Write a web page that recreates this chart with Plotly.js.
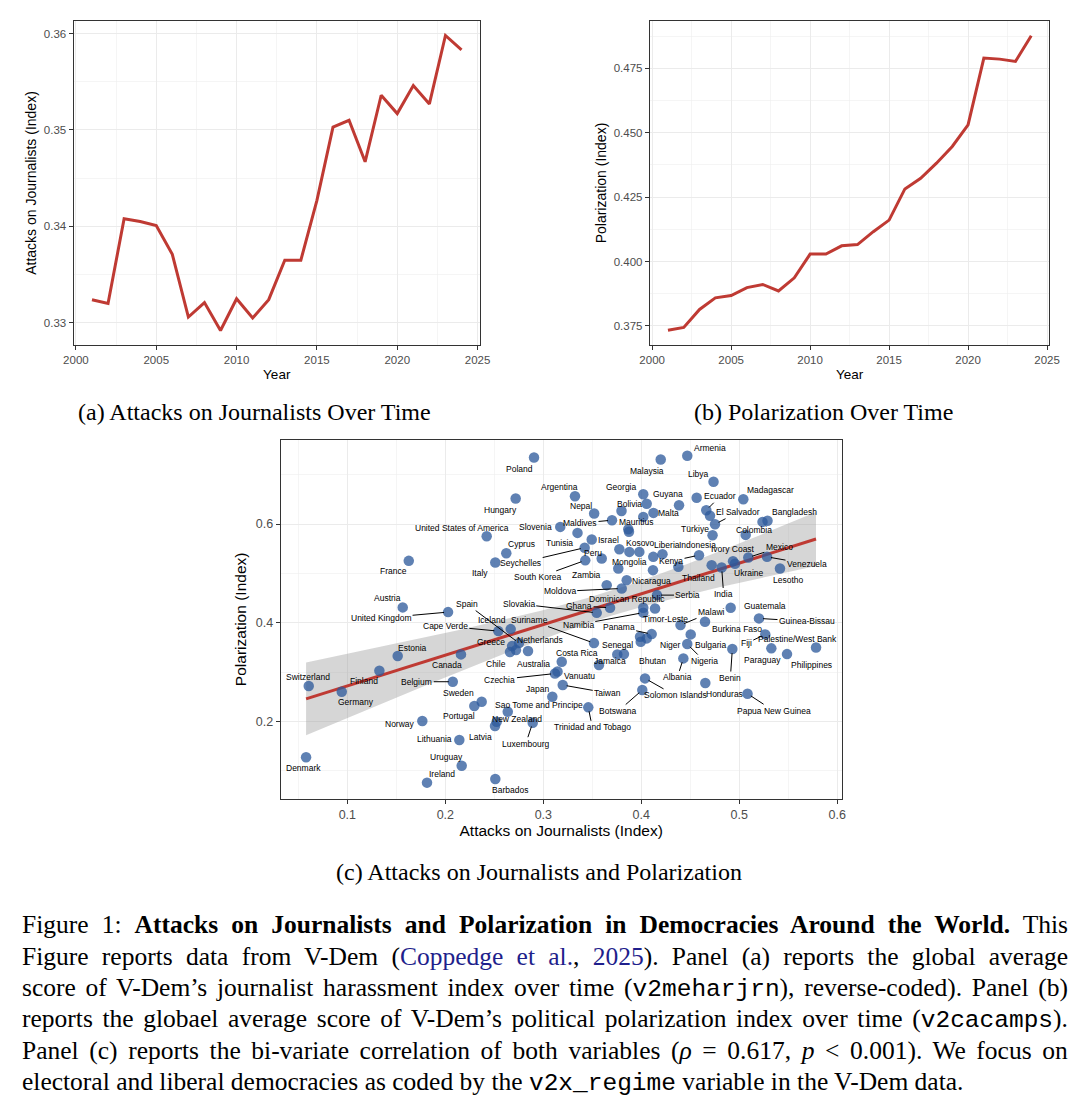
<!DOCTYPE html>
<html><head><meta charset="utf-8">
<script src="https://cdn.plot.ly/plotly-3.0.1.min.js"></script>
<style>html,body{margin:0;padding:0;background:#fff;} #fig{width:1092px;height:1120px;}</style>
</head><body><div id="fig"></div>
<script>
// ---------------- DATA ----------------
const years = [2001,2002,2003,2004,2005,2006,2007,2008,2009,2010,2011,2012,2013,2014,2015,2016,2017,2018,2019,2020,2021,2022,2023,2024];
const attacksOverTime = [0.3324,0.3320,0.3408,0.3405,0.3401,0.3371,0.3306,0.3321,0.3292,0.3325,0.3305,0.3324,0.3365,0.3365,0.3427,0.3503,0.3510,0.3467,0.3536,0.3517,0.3546,0.3527,0.3598,0.3583];
const polarizationOverTime = [0.3733,0.3744,0.3814,0.3859,0.3868,0.3899,0.3911,0.3886,0.3937,0.4029,0.4029,0.4061,0.4066,0.4116,0.4161,0.4282,0.4323,0.4382,0.4447,0.4531,0.4790,0.4786,0.4777,0.4877];

const countries = ["Poland","Hungary","United States of America","Cyprus","Italy","France","Austria","United Kingdom","Spain","Cape Verde",
"Iceland","Greece","Netherlands","Chile","Australia","Canada","Estonia","Switzerland","Finland","Germany",
"Belgium","Sweden","Portugal","Norway","Lithuania","Latvia","New Zealand","Sao Tome and Principe","Luxembourg","Uruguay",
"Ireland","Denmark","Barbados","Japan","Taiwan","Czechia","Vanuatu","Costa Rica","Jamaica","Bhutan",
"","Senegal","Panama","","Niger","Suriname","Namibia","","Timor-Leste","Slovakia",
"Ghana","Dominican Republic","Moldova","Nicaragua","Serbia","Malawi","Burkina Faso","Guatemala","Guinea-Bissau","Bulgaria",
"Nigeria","Albania","Benin","Fiji","Paraguay","Palestine/West Bank","Philippines","Solomon Islands","Botswana","Honduras",
"Papua New Guinea","Trinidad and Tobago","India","Thailand","Ivory Coast","Ukraine","Mexico","Venezuela","Lesotho","Kenya",
"Indonesia","Liberia","","","Kosovo","Mongolia","","Peru","Zambia","South Korea",
"Seychelles","Israel","Tunisia","Slovenia","Maldives","Nepal","Argentina","Bolivia","Mauritius","",
"Georgia","","","Malta","Guyana","","Malaysia","Armenia","Libya","Ecuador",
"","El Salvador","Türkiye","Madagascar","Bangladesh","","Colombia"];
const attacksIndex = [0.2905,0.2718,0.2422,0.2622,0.2510,0.1627,0.1565,0.2028,0.2752,0.2541,
0.2667,0.2681,0.2721,0.2660,0.2844,0.2160,0.1514,0.0606,0.1327,0.0943,
0.2076,0.2371,0.2296,0.1765,0.2143,0.2507,0.2524,0.2637,0.2892,0.2167,
0.1813,0.0579,0.2510,0.3092,0.3198,0.3119,0.3145,0.3188,0.3568,0.3823,
0.3755,0.3994,0.4106,0.3987,0.4055,0.3517,0.4020,0.4020,0.4140,0.3545,
0.3681,0.3647,0.3800,0.3851,0.4160,0.4400,0.4650,0.4912,0.5201,0.4504,
0.4469,0.4429,0.4929,0.5265,0.5327,0.5487,0.5783,0.4038,0.4010,0.4653,
0.5084,0.3459,0.4820,0.4718,0.4936,0.4956,0.5092,0.5283,0.5415,0.4589,
0.4378,0.4216,0.4122,0.4119,0.3980,0.3878,0.3776,0.3596,0.3765,0.3428,
0.3422,0.3494,0.3349,0.3173,0.3701,0.3519,0.3323,0.3798,0.3867,0.3874,
0.4020,0.4055,0.4020,0.4124,0.4385,0.4565,0.4198,0.4469,0.4737,0.4663,
0.4701,0.4752,0.4727,0.5041,0.5288,0.5237,0.5065];
const polarizationIndex = [0.7348,0.6518,0.5755,0.5411,0.5223,0.5255,0.4312,0.4217,0.3589,0.3832,
0.3872,0.3528,0.3447,0.3407,0.3427,0.3360,0.3326,0.2719,0.3028,0.2603,
0.2806,0.2401,0.2314,0.2010,0.1626,0.1909,0.1996,0.2198,0.1976,0.1105,
0.0761,0.1275,0.0836,0.2502,0.2739,0.2972,0.3012,0.3211,0.3144,0.3366,
0.3360,0.3615,0.3771,0.3717,0.3684,0.3589,0.4206,0.4304,0.4291,0.4202,
0.4304,0.4763,0.4696,0.4864,0.4561,0.3953,0.4020,0.4304,0.4089,0.3765,
0.3569,0.3279,0.3468,0.3765,0.3482,0.3366,0.3498,0.2874,0.2638,0.2779,
0.2563,0.2287,0.5121,0.5168,0.5249,0.5198,0.5324,0.5336,0.5101,0.5370,
0.5134,0.5391,0.5336,0.5067,0.5437,0.5437,0.5492,0.5304,0.5101,0.5265,
0.5522,0.5688,0.5822,0.5943,0.6079,0.6215,0.6565,0.6267,0.5897,0.5846,
0.6605,0.6413,0.6146,0.6227,0.6383,0.6534,0.7308,0.7385,0.6858,0.6281,
0.6170,0.5998,0.5775,0.6504,0.6069,0.6045,0.5781];

// label placement (pixel offset of label centre from its point, 1 = leader line)
const labelPlacement = {
"Poland":[-15,11,0],"Hungary":[-15,11,0],"United States of America":[-25,-8,0],"Cyprus":[15,-9,0],"Italy":[-15,11,0],
"France":[-15,10,0],"Austria":[-15,-9,0],"United Kingdom":[-67,6,1],"Spain":[-52,-39,1],"Cape Verde":[-53,-5,1],
"Iceland":[-19,-9,0],"Greece":[-21,-4,0],"Netherlands":[24,-10,0],"Chile":[-14,12,0],"Australia":[5,13,0],
"Canada":[-14,11,0],"Estonia":[15,-8,0],"Switzerland":[-1,-9,0],"Finland":[-15,10,0],"Germany":[14,10,0],
"Belgium":[-36,0,1],"Sweden":[-23,-9,0],"Portugal":[-15,10,0],"Norway":[-22,3,0],"Lithuania":[-25,-1,0],
"Latvia":[-15,11,0],"New Zealand":[20,-3,0],"Sao Tome and Principe":[31,-7,0],"Luxembourg":[-7,21,1],"Uruguay":[-15,-9,0],
"Ireland":[15,-9,0],"Denmark":[-3,11,0],"Barbados":[15,11,0],"Japan":[-15,-8,0],"Taiwan":[45,8,1],
"Czechia":[-55,6,1],"Vanuatu":[22,4,0],"Costa Rica":[15,-9,0],"Jamaica":[11,-4,0],"Bhutan":[29,7,0],
"Senegal":[-23,3,0],"Panama":[-33,-7,1],"Niger":[23,7,0],"Suriname":[-64,-23,1],"Namibia":[-65,12,1],
"Timor-Leste":[10,11,0],"Slovakia":[-78,-9,1],"Ghana":[-31,-2,1],"Dominican Republic":[20,14,0],"Moldova":[-62,3,1],
"Nicaragua":[25,1,0],"Serbia":[31,0,1],"Malawi":[31,-13,1],"Burkina Faso":[32,7,0],"Guatemala":[34,-2,0],
"Guinea-Bissau":[48,3,1],"Bulgaria":[20,11,0],"Nigeria":[17,17,1],"Albania":[-6,19,1],"Benin":[-2,29,1],
"Fiji":[-19,9,1],"Paraguay":[-9,12,0],"Palestine/West Bank":[10,-15,0],"Philippines":[-5,17,0],"Solomon Islands":[30,17,1],
"Botswana":[-24,21,1],"Honduras":[19,11,0],"Papua New Guinea":[26,17,1],"Trinidad and Tobago":[4,20,1],"India":[2,27,1],
"Thailand":[-13,13,0],"Ivory Coast":[0,-12,0],"Ukraine":[14,9,0],"Mexico":[31,-10,1],"Venezuela":[40,7,1],
"Lesotho":[9,12,0],"Kenya":[-28,6,1],"Indonesia":[19,-22,0],"Liberia":[5,-9,0],"Kosovo":[1,-9,0],
"Mongolia":[0,10,0],"Peru":[-9,-5,0],"Zambia":[-32,7,0],"South Korea":[-47,17,1],"Seychelles":[-64,15,1],
"Israel":[17,1,0],"Tunisia":[-18,10,0],"Slovenia":[-25,0,0],"Maldives":[-32,3,1],"Nepal":[-13,-7,0],
"Argentina":[-15,-9,0],"Bolivia":[8,-7,0],"Mauritius":[8,-7,0],"Georgia":[-22,-7,0],"Malta":[15,0,0],
"Guyana":[-11,-11,0],"Malaysia":[-14,11,0],"Armenia":[23,-8,0],"Libya":[-15,-8,0],"Ecuador":[14,-14,1],
"Madagascar":[27,-9,0],"El Salvador":[23,-12,1],"Bangladesh":[27,-9,0],"Türkiye":[-18,-6,0],"Colombia":[8,-5,0]
};

// ---------------- LAYOUT HELPERS ----------------
const W = 1092, H = 1120;
const hx = (a,b) => [a/W, b/W];
const vy = (top,bottom) => [1-bottom/H, 1-top/H];
const SANS = "Liberation Sans, Arial, sans-serif";
const SERIF = "Liberation Serif, Times New Roman, serif";
const RED = "#bf3a33";
const GRID = "#ebebeb", MINOR = "#eeeeee", FRAME = "#333333";
const CAPFS = 25.5;
const MONO = "<span style='font-family:Liberation Mono;font-size:24.5px'>";

function baseAxis(extra){
  return Object.assign({
    showline:true, mirror:true, linecolor:FRAME, linewidth:1,
    ticks:"outside", ticklen:4, tickwidth:1, tickcolor:FRAME,
    showgrid:true, gridcolor:GRID, gridwidth:1, zeroline:false,
    tickfont:{family:SANS, size:11.5, color:"#4d4d4d"}
  }, extra);
}
const minorGrid = d => ({dtick:d, showgrid:true, gridcolor:MINOR, gridwidth:0.6, ticks:""});

// ---------------- LINEAR FIT (geom_smooth, method = lm) ----------------
const n = attacksIndex.length;
const mx = attacksIndex.reduce((s,v)=>s+v,0)/n;
const my = polarizationIndex.reduce((s,v)=>s+v,0)/n;
let sxx=0, sxy=0;
for(let i=0;i<n;i++){ const dx=attacksIndex[i]-mx, dy=polarizationIndex[i]-my; sxx+=dx*dx; sxy+=dx*dy; }
const slope = sxy/sxx, intercept = my - slope*mx;
let sse=0; for(let i=0;i<n;i++){ const r=polarizationIndex[i]-(intercept+slope*attacksIndex[i]); sse+=r*r; }
const s2 = sse/(n-2), tq = 1.981;
const xmin = Math.min(...attacksIndex), xmax = Math.max(...attacksIndex);
const fx=[], fy=[], up=[], lo=[];
for(let k=0;k<=80;k++){
  const x = xmin + (xmax-xmin)*k/80;
  const yh = intercept + slope*x;
  const se = Math.sqrt(s2*(1/n + (x-mx)*(x-mx)/sxx));
  fx.push(x); fy.push(yh); up.push(yh+tq*se); lo.push(yh-tq*se);
}

// ---------------- TRACES ----------------
const traces = [
  {x:years, y:attacksOverTime, type:"scatter", mode:"lines", xaxis:"x", yaxis:"y",
   line:{color:RED, width:3}, hoverinfo:"x+y"},
  {x:years, y:polarizationOverTime, type:"scatter", mode:"lines", xaxis:"x2", yaxis:"y2",
   line:{color:RED, width:3}, hoverinfo:"x+y"},
  {x:fx.concat(fx.slice().reverse()), y:up.concat(lo.slice().reverse()), type:"scatter", mode:"lines",
   fill:"toself", fillcolor:"rgba(153,153,153,0.4)", line:{width:0}, xaxis:"x3", yaxis:"y3", hoverinfo:"skip"},
  {x:fx, y:fy, type:"scatter", mode:"lines", line:{color:RED, width:3}, xaxis:"x3", yaxis:"y3", hoverinfo:"skip"},
  {x:attacksIndex, y:polarizationIndex, text:countries, type:"scatter", mode:"markers", xaxis:"x3", yaxis:"y3",
   marker:{size:10.5, color:"rgba(45,90,155,0.76)", line:{width:0}}, hoverinfo:"text+x+y"}
];

// ---------------- ANNOTATIONS ----------------
const annotations = [];
const capLines = [
  "Figure 1: <b>Attacks on Journalists and Polarization in Democracies Around the World.</b> This",
  "Figure reports data from V-Dem (<span style='color:#1f1f8c'>Coppedge et al.</span>, <span style='color:#1f1f8c'>2025</span>). Panel (a) reports the global average",
  "score of V-Dem’s journalist harassment index over time (" + MONO + "v2meharjrn</span>), reverse-coded). Panel (b)",
  "reports the globael average score of V-Dem’s political polarization index over time (" + MONO + "v2cacamps</span>).",
  "Panel (c) reports the bi-variate correlation of both variables (<i>ρ</i> = 0.617, <i>p</i> &lt; 0.001). We focus on",
  "electoral and liberal democracies as coded by the " + MONO + "v2x_regime</span> variable in the V-Dem data."
];
const capBase = [933.3, 964.8, 996.3, 1027.8, 1059.3, 1090.8];
capLines.forEach((t,i)=>{
  annotations.push({xref:"paper", yref:"paper", x:19.5/W, y:1-(capBase[i]-0.3375*CAPFS)/H,
    xanchor:"left", yanchor:"middle", align:"left", showarrow:false, text:t,
    font:{family:SERIF, size:CAPFS, color:"#000"}});
});
const CAPCOUNT = capLines.length;
// sub-figure captions
annotations.push({xref:"paper", yref:"paper", x:254/W, y:1-412/H, xanchor:"center", yanchor:"middle", showarrow:false,
  text:"(a) Attacks on Journalists Over Time", font:{family:SERIF, size:24, color:"#000"}});
annotations.push({xref:"paper", yref:"paper", x:823.5/W, y:1-412/H, xanchor:"center", yanchor:"middle", showarrow:false,
  text:"(b) Polarization Over Time", font:{family:SERIF, size:24, color:"#000"}});
annotations.push({xref:"paper", yref:"paper", x:538.5/W, y:1-872/H, xanchor:"center", yanchor:"middle", showarrow:false,
  text:"(c) Attacks on Journalists and Polarization", font:{family:SERIF, size:24, color:"#000"}});

// country labels (ggrepel style)
countries.forEach((name,i)=>{
  const p = labelPlacement[name];
  if(!name || !p) return;
  const a = {xref:"x3", yref:"y3", x:attacksIndex[i], y:polarizationIndex[i], text:name,
    font:{family:SANS, size:8.5, color:"#000"}, xanchor:"center", yanchor:"middle"};
  if(p[2]){
    Object.assign(a, {showarrow:true, arrowhead:0, arrowwidth:1, arrowcolor:"#000", ax:p[0], ay:p[1], standoff:4});
  } else {
    Object.assign(a, {showarrow:false, xshift:p[0], yshift:-p[1]});
  }
  annotations.push(a);
});

// ---------------- LAYOUT ----------------
const layout = {
  width:W, height:H, margin:{l:0,r:0,t:0,b:0}, paper_bgcolor:"#fff", plot_bgcolor:"#fff",
  showlegend:false, font:{family:SANS, color:"#000"},
  xaxis: baseAxis({domain:hx(73.5,480), anchor:"y", range:[1999.85,2025.15], tick0:2000, dtick:5,
    minor:minorGrid(2.5),
    title:{text:"Year", font:{family:SANS, size:13.5, color:"#000"}, standoff:4}}),
  yaxis: baseAxis({domain:vy(21,345), anchor:"x", range:[0.3277,0.3613], tick0:0.33, dtick:0.01, tickformat:".2f",
    minor:minorGrid(0.005),
    title:{text:"Attacks on Journalists (Index)", font:{family:SANS, size:14, color:"#000"}, standoff:3}}),
  xaxis2: baseAxis({domain:hx(649.8,1049.4), anchor:"y2", range:[1999.85,2025.15], tick0:2000, dtick:5,
    minor:minorGrid(2.5),
    title:{text:"Year", font:{family:SANS, size:13.5, color:"#000"}, standoff:4}}),
  yaxis2: baseAxis({domain:vy(21,345), anchor:"x2", range:[0.3676,0.4934], tick0:0.375, dtick:0.025, tickformat:".3f",
    minor:minorGrid(0.0125),
    title:{text:"Polarization (Index)", font:{family:SANS, size:14, color:"#000"}, standoff:3}}),
  xaxis3: baseAxis({domain:hx(280.7,841.7), anchor:"y3", range:[0.032,0.6045], tick0:0, dtick:0.1, tickformat:".1f",
    tickfont:{family:SANS, size:12.5, color:"#4d4d4d"},
    minor:minorGrid(0.05),
    title:{text:"Attacks on Journalists (Index)", font:{family:SANS, size:15.5, color:"#000"}, standoff:3}}),
  yaxis3: baseAxis({domain:vy(439.7,799), anchor:"x3", range:[0.043,0.771], tick0:0, dtick:0.2, tickformat:".1f",
    tickfont:{family:SANS, size:12.5, color:"#4d4d4d"},
    minor:minorGrid(0.1),
    title:{text:"Polarization (Index)", font:{family:SANS, size:15.5, color:"#000"}, standoff:5}}),
  annotations: annotations
};

Plotly.newPlot("fig", traces, layout, {staticPlot:true, displayModeBar:false}).then(()=>{
  // justify the caption lines (all but the last) to the text block's right edge
  const RIGHT = 1068;
  const root = document.getElementById("fig").getBoundingClientRect();
  document.querySelectorAll("g.annotation").forEach(g=>{
    const idx = +g.getAttribute("data-index");
    if(!(idx < CAPCOUNT-1)) return;
    const t = g.querySelector("text.annotation-text");
    if(!t) return;
    const bb = t.getBoundingClientRect();
    const left = bb.left - root.left, width = bb.width;
    const spaces = (t.textContent.match(/ /g)||[]).length;
    if(spaces>0){
      const extra = (RIGHT - left - width)/spaces;
      t.style.wordSpacing = extra.toFixed(2)+"px";
    }
  });
});
</script>
</body></html>
